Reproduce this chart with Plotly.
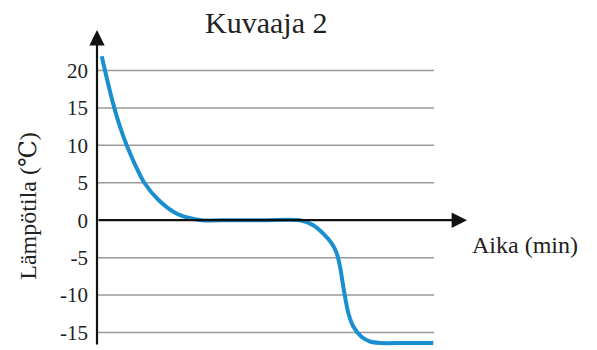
import plotly.graph_objects as go

# Data (time in arbitrary minute units, temperature in °C)
time_min = [1.27, 2.16, 3.42, 4.68, 6.3, 8.03, 10.4, 12.78, 16.57, 21.08, 24.68, 28.3, 36.0, 45.0, 54.86,
            58.46, 61.16, 63.43, 64.78, 65.68, 66.41, 67.03, 67.92, 69.27, 71.54, 73.78, 76.49, 83.0, 90.89]
temperature = [21.9, 20.0, 17.4, 15.0, 12.35, 10.0, 7.3, 5.0, 2.73, 1.0, 0.33, 0.0, 0.0, 0.0, 0.0,
               -0.67, -1.8, -3.1, -4.4, -6.2, -8.4, -10.2, -12.4, -14.2, -15.6, -16.2, -16.4, -16.4, -16.4]
y_ticks = [-15, -10, -5, 0, 5, 10, 15, 20]
y_tick_labels = ["-15", "-10", "-5", "0", "5", "10", "15", "20"]
title_text = "Kuvaaja 2"
y_title = "Lämpötila (<span style='font-family:DejaVu Serif'>℃</span>)"
x_title = "Aika (min)"

X_MAX = 100
Y_MIN, Y_MAX = -16.8, 25.4
GRID_END = 91.1
SERIF = "Liberation Serif"
TXT = "#222222"

fig = go.Figure()
fig.add_trace(go.Scatter(
    x=time_min, y=temperature, mode="lines",
    line=dict(color="#1a8fd0", width=4, shape="spline", smoothing=0.8),
    hoverinfo="skip", showlegend=False,
))

shapes = []
for v in y_ticks:
    if v == 0:
        continue
    shapes.append(dict(type="line", xref="x", yref="y", x0=0, x1=GRID_END, y0=v, y1=v,
                       line=dict(color="#9a9a9a", width=1.5), layer="below"))

annotations = [
    # y axis with arrow
    dict(x=0, y=Y_MAX, ax=0, ay=Y_MIN, xref="x", yref="y", axref="x", ayref="y",
         showarrow=True, arrowhead=2, arrowsize=1.4, arrowwidth=2.2, arrowcolor="#111111", text=""),
    # x axis with arrow
    dict(x=X_MAX, y=0, ax=0, ay=0, xref="x", yref="y", axref="x", ayref="y",
         showarrow=True, arrowhead=2, arrowsize=1.4, arrowwidth=2.2, arrowcolor="#111111", text=""),
    dict(x=1.008, y=0.3207, xref="paper", yref="paper", text=x_title, showarrow=False,
         xanchor="left", yanchor="middle", font=dict(family=SERIF, size=24, color=TXT)),
    dict(x=-0.1865, y=0.444, xref="paper", yref="paper", text=y_title, showarrow=False,
         textangle=-90, xanchor="center", yanchor="middle",
         font=dict(family=SERIF, size=24, color=TXT)),
    dict(x=0.458, y=1.025, xref="paper", yref="paper", text=title_text,
         showarrow=False, xanchor="center", yanchor="middle",
         font=dict(family=SERIF, size=30, color=TXT)),
]

fig.update_layout(
    width=597, height=350,
    margin=dict(l=97, r=130, t=30, b=3.5),
    paper_bgcolor="white", plot_bgcolor="white",
    shapes=shapes, annotations=annotations,
    xaxis=dict(range=[0, X_MAX], showgrid=False, zeroline=False, showticklabels=False,
               showline=False, ticks=""),
    yaxis=dict(range=[Y_MIN, Y_MAX], tickvals=y_ticks, ticktext=y_tick_labels,
               showgrid=False, zeroline=False, showline=False, ticks="",
               ticklabelstandoff=8,
               tickfont=dict(family=SERIF, size=21, color=TXT)),
)

# remove the default 8 px page margin so the 597x350 figure fills the window exactly
fig.write_html("out.html", config={"displayModeBar": False},
               post_script="document.body.style.margin='0';document.body.style.overflow='hidden';")
